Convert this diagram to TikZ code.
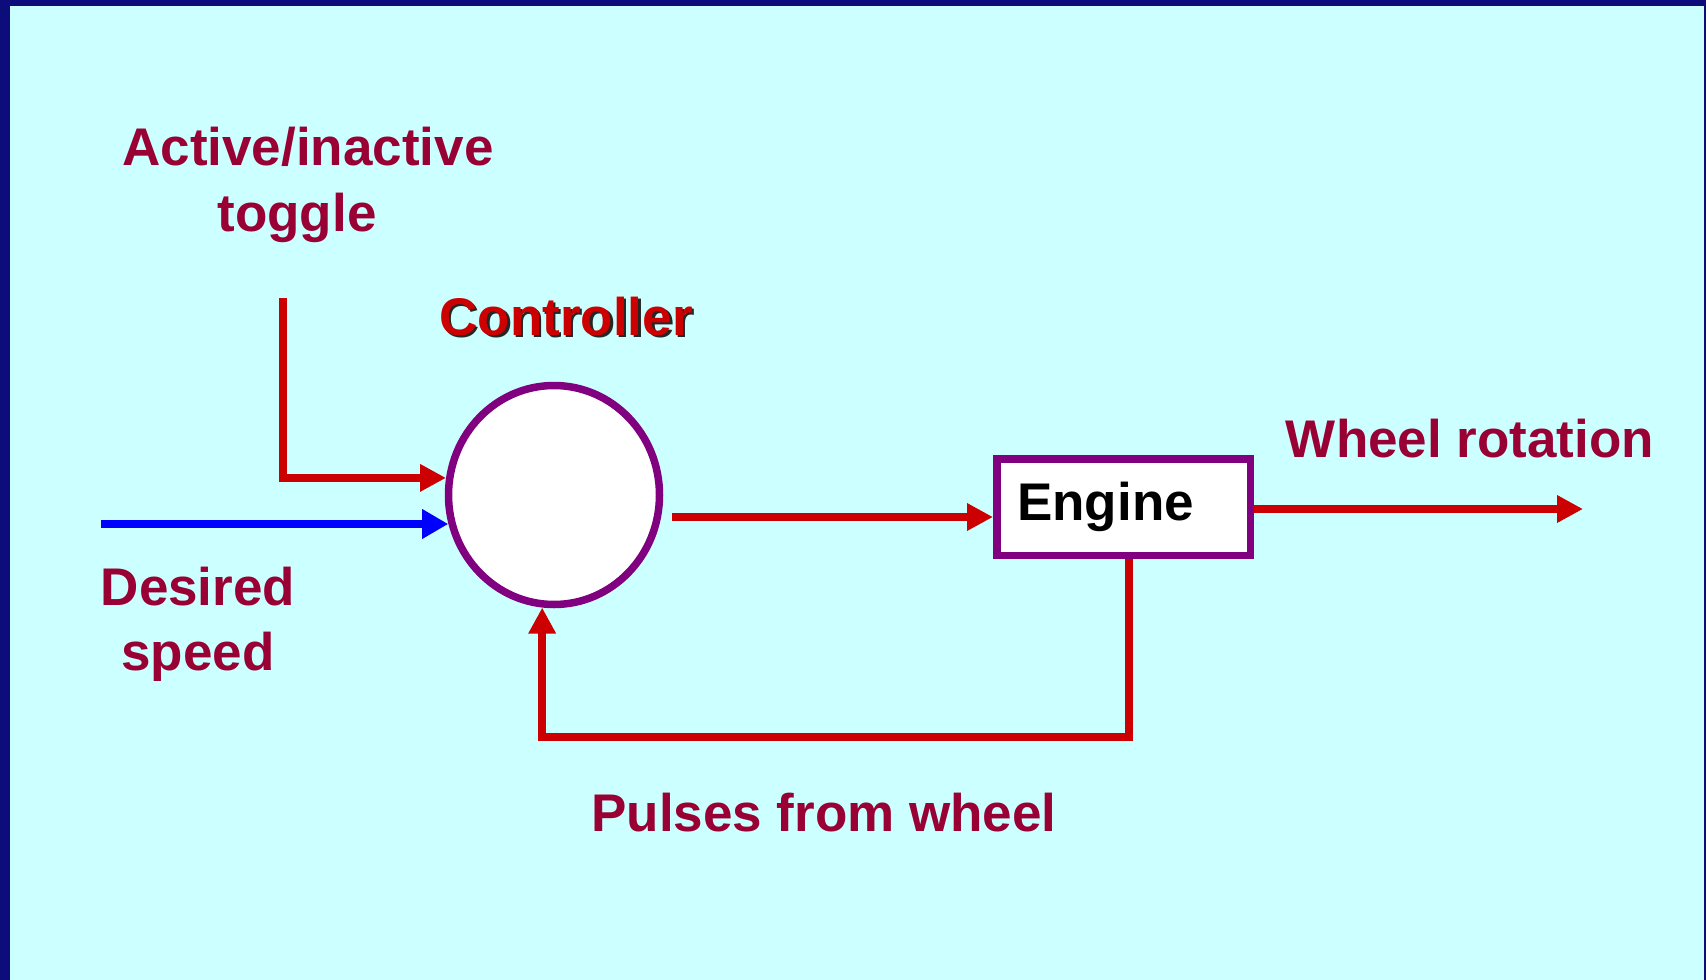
\documentclass[tikz,border=0pt]{standalone}
\usepackage{fontspec}
\setmainfont{Liberation Sans}
\usetikzlibrary{arrows.meta,shapes.geometric}
\definecolor{bgcyan}{RGB}{204,255,255}
\definecolor{frameblue}{RGB}{12,12,122}
\definecolor{labelred}{RGB}{153,0,51}
\definecolor{linered}{RGB}{204,0,0}
\definecolor{boxpurple}{RGB}{128,0,128}
\definecolor{inblue}{RGB}{0,0,255}
\begin{document}
\begin{tikzpicture}[x=1pt,y=-1pt,
  lbl/.style={text=labelred, font=\fontsize{53}{64}\selectfont\bfseries, inner sep=0pt, anchor=base},
  flow/.style={draw=linered, line width=8pt, -{Triangle[length=26pt,width=26pt]}},
  flowblue/.style={draw=inblue, line width=8pt, -{Triangle[length=26pt,width=28pt]}},
  ctrlshape/.style={ellipse, draw=boxpurple, line width=7.5pt, fill=white, minimum width=211pt, minimum height=219pt, inner sep=0pt},
  enginebox/.style={rectangle, draw=boxpurple, line width=7.5pt, fill=white, minimum width=253.5pt, minimum height=96.5pt, text width=212.5pt, inner xsep=20.5pt, inner ysep=0pt, align=left, font=\fontsize{53}{64}\selectfont\bfseries, text=black}
]
\fill[frameblue] (0,0) rectangle (1706,980);
\fill[bgcyan] (10,6) rectangle (1704,980);
\useasboundingbox (0,0) rectangle (1706,980);

% nodes
\node[ctrlshape] (ctrl) at (554,495) {};
\node[enginebox] (eng) at (1123.5,507) {Engine};

% labels
\node[lbl, text=black!85] (ctrlshadow) at (568.5,337.5) {Controller};
\node[lbl, text=linered] (ctrllbl) at (566,335) {Controller};
\node[lbl] (act1) at (308,165) {Active/inactive};
\node[lbl] (act2) at (297,231) {toggle};
\node[lbl] (ds1) at (198,605) {Desired};
\node[lbl] (ds2) at (198,670) {speed};
\node[lbl] (wrl) at (1470,457) {Wheel rotation};
\node[lbl] (pfw) at (824,831) {Pulses from wheel};

% free ends
\coordinate (togtop) at (283,298);
\coordinate (dsstart) at (101,524);
\coordinate (cout) at (672,517);
\coordinate (wr) at (1583,509);
\coordinate (fbx) at (1129,737);

% connectors
\draw[flow] (togtop) |- (ctrl.171.6);
\draw[flowblue] (dsstart) -- (dsstart -| ctrl.195.4);
\draw[flow] (cout) -- (cout -| eng.west);
\draw[flow] (wr -| eng.east) -- (wr);
\draw[flow] (fbx |- eng.south) -- (fbx) -| (ctrl.264.5);
\end{tikzpicture}
\end{document}
